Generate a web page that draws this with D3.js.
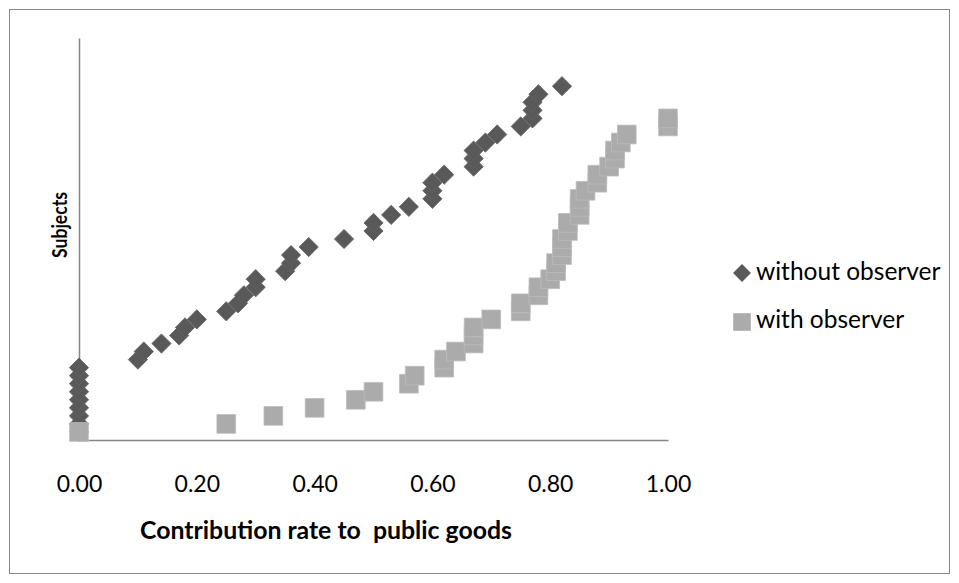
<!DOCTYPE html>
<html>
<head>
<meta charset="utf-8">
<script src="https://d3js.org/d3.v7.min.js"></script>
<style>
  body { margin: 0; background: #fff; }
  text { font-family: Lato, "Open Sans", sans-serif; fill: #000; }
</style>
</head>
<body>
<div id="chart"></div>
<script>
// contribution rates, each series sorted, subject number = rank
var withoutObserver = [0, 0, 0, 0, 0, 0, 0, 0, 0,
    0.10, 0.11, 0.14, 0.17, 0.18, 0.20, 0.25, 0.27, 0.28, 0.30, 0.30,
    0.35, 0.36, 0.36, 0.39, 0.45, 0.50, 0.50, 0.53, 0.56, 0.60,
    0.60, 0.60, 0.62, 0.67, 0.67, 0.67, 0.69, 0.71, 0.75, 0.77,
    0.77, 0.77, 0.78, 0.82];
var withObserver = [0, 0.25, 0.33, 0.40, 0.47, 0.50, 0.56, 0.57, 0.62, 0.62,
    0.64, 0.67, 0.67, 0.67, 0.70, 0.75, 0.75, 0.78, 0.78, 0.80,
    0.81, 0.81, 0.82, 0.82, 0.82, 0.83, 0.83, 0.85, 0.85, 0.85,
    0.86, 0.88, 0.88, 0.90, 0.91, 0.91, 0.92, 0.93, 1.00, 1.00];
var xTicks = [0, 0.2, 0.4, 0.6, 0.8, 1.0];
var seriesNames = ["without observer", "with observer"];

var W = 959, H = 583;
var margin = {top: 38, left: 79},
    width = 589,
    height = 402;

var svg = d3.select("#chart")
    .append("svg")
    .attr("width", W)
    .attr("height", H);

// chart border
svg.append("rect")
    .attr("x", 9.5)
    .attr("y", 9.5)
    .attr("width", 940)
    .attr("height", 564)
    .attr("fill", "none")
    .attr("stroke", "#868686")
    .attr("stroke-width", 1);

var g = svg.append("g")
    .attr("transform", "translate(" + margin.left + "," + margin.top + ")");

var x = d3.scaleLinear()
    .domain([0, 1])
    .range([0, width]);

var y = d3.scaleLinear()
    .domain([0, 50])
    .range([height, 0]);

// X axis line + labels
var xAxis = g.append("g")
    .attr("transform", "translate(0," + height + ")")
    .call(d3.axisBottom(x).tickValues(xTicks).tickFormat(d3.format(".2f")).tickSize(0).tickPadding(36));
xAxis.select(".domain")
    .attr("stroke", "#878787")
    .attr("stroke-width", 1.5);
xAxis.selectAll("text")
    .style("font-family", "Lato, 'Open Sans', sans-serif")
    .style("font-size", "23px")
    .attr("fill", "#000");

// Y axis line, no labels
var yAxis = g.append("g")
    .call(d3.axisLeft(y).tickValues([]).tickSize(0));
yAxis.select(".domain")
    .attr("stroke", "#878787")
    .attr("stroke-width", 1.5);

var diamond = d3.symbol().type(d3.symbolSquare).size(185);
var square = d3.symbol().type(d3.symbolSquare).size(350);

// without observer
g.selectAll("path.dia")
    .data(withoutObserver)
    .enter()
    .append("path")
    .attr("class", "dia")
    .attr("d", diamond)
    .attr("transform", function(d, i) {
        return "translate(" + x(d) + "," + y(i + 1) + ") rotate(45)";
    })
    .attr("fill", "#595959")
    .attr("stroke", "#636363")
    .attr("stroke-width", 0.8);

// with observer
g.selectAll("path.sq")
    .data(withObserver)
    .enter()
    .append("path")
    .attr("class", "sq")
    .attr("d", square)
    .attr("transform", function(d, i) {
        return "translate(" + x(d) + "," + y(i + 1) + ")";
    })
    .attr("fill", "#ababab")
    .attr("stroke", "#bcbcbc")
    .attr("stroke-width", 0.8);

// axis titles
svg.append("text")
    .attr("x", 326)
    .attr("y", 539)
    .attr("text-anchor", "middle")
    .style("font-weight", "bold")
    .style("font-size", "25px")
    .style("white-space", "pre")
    .attr("textLength", 372)
    .attr("lengthAdjust", "spacingAndGlyphs")
    .text("Contribution rate to  public goods");

svg.append("text")
    .attr("transform", "translate(67,225) rotate(-90)")
    .attr("text-anchor", "middle")
    .style("font-weight", "bold")
    .style("font-size", "21px")
    .attr("textLength", 66)
    .attr("lengthAdjust", "spacingAndGlyphs")
    .text("Subjects");

// legend
var legend = svg.append("g");
legend.append("path")
    .attr("d", d3.symbol().type(d3.symbolSquare).size(160))
    .attr("transform", "translate(742,273) rotate(45)")
    .attr("fill", "#595959");
legend.append("path")
    .attr("d", d3.symbol().type(d3.symbolSquare).size(310))
    .attr("transform", "translate(742,322)")
    .attr("fill", "#ababab");
legend.selectAll("text.leg")
    .data(seriesNames)
    .enter()
    .append("text")
    .attr("class", "leg")
    .attr("x", 756)
    .attr("y", function(d, i) { return 280 + i * 48; })
    .style("font-size", "24.5px")
    .text(function(d) { return d; });
</script>
</body>
</html>
